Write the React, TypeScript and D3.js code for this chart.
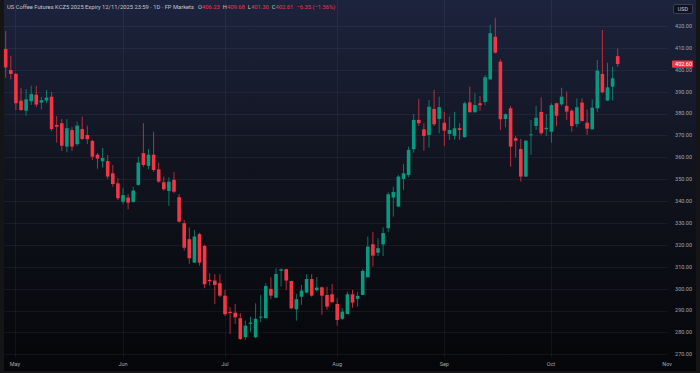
import * as d3 from "d3";

const WIDTH = 700;
const HEIGHT = 373;

// daily OHLC (May -> mid Oct)
const opens = [
  409.5, 399.9, 398.1, 385.9, 381.3, 385.6, 388.6, 385.0, 385.9, 387.7,
  374.8, 375.6, 364.9, 372.5, 366.0, 372.9, 370.2, 367.5, 361.2, 358.2,
  358.3, 352.7, 348.1, 339.7, 341.6, 339.6, 347.4, 361.9, 356.1, 361.2,
  354.5, 348.6, 344.6, 349.7, 341.8, 329.9, 322.6, 311.9, 324.9, 319.5,
  304.0, 303.7, 302.5, 296.8, 289.4, 289.0, 286.5, 277.8, 283.9, 277.8,
  286.8, 286.5, 299.9, 295.9, 308.2, 308.9, 303.5, 290.6, 296.3, 298.2,
  304.4, 299.3, 300.6, 297.1, 297.4, 293.0, 286.2, 288.4, 297.4, 295.3,
  297.1, 305.2, 320.3, 316.4, 320.2, 327.6, 341.6, 337.5, 350.1, 351.9,
  363.7, 377.1, 372.8, 370.2, 382.1, 377.5, 375.8, 370.7, 369.8, 373.3,
  369.2, 385.1, 380.6, 384.7, 385.3, 395.6, 415.1, 403.7, 377.5, 382.4,
  368.7, 363.8, 351.2, 370.1, 374.3, 380.7, 372.9, 371.7, 384.7, 384.2,
  383.5, 381.3, 375.2, 385.0, 375.8, 372.8, 382.4, 398.1, 385.9, 392.3,
  406.23,
];
const highs = [
  417.7, 406.4, 398.5, 391.8, 391.2, 392.7, 392.6, 387.7, 390.8, 389.9,
  378.9, 377.5, 377.5, 374.0, 376.3, 378.6, 374.5, 368.0, 361.9, 364.3,
  361.1, 356.5, 350.4, 346.1, 343.3, 346.6, 360.3, 375.6, 363.7, 371.7,
  357.6, 351.2, 350.9, 353.2, 343.3, 331.4, 327.9, 326.8, 325.5, 320.0,
  307.0, 306.6, 306.6, 299.4, 291.5, 293.0, 288.8, 285.4, 287.2, 293.3,
  297.1, 302.5, 305.2, 309.3, 309.2, 309.1, 303.6, 297.6, 301.7, 306.6,
  306.6, 305.2, 301.0, 300.9, 302.2, 295.6, 291.1, 298.6, 299.4, 298.6,
  308.9, 323.8, 326.0, 323.0, 328.0, 344.0, 346.6, 351.9, 357.0, 364.9,
  379.8, 386.7, 375.6, 386.2, 390.8, 387.7, 380.8, 378.6, 380.8, 375.6,
  385.4, 392.3, 389.3, 388.0, 397.6, 420.5, 423.7, 404.8, 380.0, 383.5,
  369.8, 368.4, 367.8, 377.1, 383.5, 387.4, 379.8, 384.7, 385.0, 391.8,
  390.0, 381.9, 387.0, 387.0, 381.9, 386.5, 404.5, 418.2, 403.2, 401.4,
  409.68,
];
const lows = [
  396.3, 395.6, 381.6, 381.3, 379.0, 383.9, 382.9, 381.9, 384.7, 372.0,
  366.7, 362.9, 362.3, 362.9, 365.3, 367.9, 366.1, 358.8, 354.8, 355.3,
  350.1, 346.6, 340.5, 338.6, 336.3, 339.3, 347.0, 355.7, 354.6, 353.4,
  348.4, 344.8, 337.8, 343.6, 330.2, 317.4, 311.3, 311.7, 310.5, 300.2,
  301.4, 292.9, 296.2, 287.5, 279.2, 283.9, 276.6, 276.6, 280.3, 277.3,
  284.7, 286.4, 295.2, 295.6, 300.9, 299.4, 290.6, 285.4, 292.6, 297.9,
  296.3, 298.6, 288.0, 290.3, 293.6, 283.1, 285.7, 288.3, 291.3, 291.8,
  297.0, 305.0, 310.1, 314.9, 314.9, 325.8, 332.9, 337.2, 345.1, 350.9,
  362.1, 374.3, 363.0, 364.4, 374.3, 371.0, 365.2, 367.9, 368.2, 367.9,
  369.0, 380.4, 380.4, 381.3, 383.9, 395.5, 407.5, 372.5, 373.7, 355.7,
  359.9, 348.9, 351.0, 361.1, 372.5, 370.2, 369.8, 366.7, 374.3, 383.5,
  377.1, 371.7, 373.7, 376.3, 370.2, 372.7, 380.8, 389.3, 385.8, 385.9,
  401.3,
];
const closes = [
  401.1, 398.1, 384.7, 381.6, 386.5, 388.9, 384.1, 386.1, 387.3, 372.9,
  374.0, 365.3, 373.3, 364.9, 374.5, 368.4, 368.3, 360.3, 359.4, 359.7,
  351.2, 347.8, 341.3, 342.8, 339.3, 344.8, 357.6, 356.5, 361.2, 354.2,
  348.9, 345.4, 348.9, 344.3, 330.6, 318.7, 313.9, 323.8, 311.9, 302.0,
  303.4, 301.7, 296.8, 288.3, 288.9, 286.9, 277.0, 283.1, 284.5, 286.2,
  287.2, 301.2, 296.8, 306.7, 308.8, 303.7, 291.0, 295.2, 299.1, 304.4,
  296.8, 300.5, 296.8, 291.8, 293.8, 285.7, 289.5, 297.4, 293.6, 296.7,
  308.1, 319.2, 315.1, 318.5, 325.4, 343.1, 344.2, 351.2, 352.7, 363.4,
  377.1, 375.6, 369.8, 383.1, 375.1, 382.9, 372.2, 372.5, 373.3, 372.5,
  384.7, 380.6, 383.9, 383.8, 396.6, 416.7, 407.8, 377.4, 379.7, 364.9,
  367.6, 351.2, 367.6, 370.5, 378.1, 371.0, 373.5, 383.9, 379.0, 387.7,
  380.9, 374.3, 382.9, 376.6, 373.1, 382.7, 399.6, 389.7, 392.0, 396.1,
  402.61,
];

const priceTicks = d3.range(270, 421, 10);
const monthLabels = ["May", "Jun", "Jul", "Aug", "Sep", "Oct", "Nov"];
// bar index where each month label sits
const monthBarIndex = [1.8, 23, 43, 65, 86, 106.9, 129.7];

// header change as shown in the legend
const headerChange = "−6.35 (−1.56%)";
const lastPriceLabel = "402.60";

const UP = "#089981";
const DOWN = "#f23645";
const TEXT = "#a3a6af";
const FONT = "Roboto, 'DejaVu Sans', sans-serif";

export default function App() {
  const n = closes.length;
  const x = d3.scaleLinear().domain([0, n - 1]).range([5.7, 617.7]);
  const y = d3.scaleLinear().domain([270, 420]).range([354.3, 26]);
  const bodyW = 3.6;

  const last = closes[n - 1];

  return (
    <div>
      <style>{`body{margin:0;background:#000}`}</style>
      <svg width={WIDTH} height={HEIGHT} style={{ display: "block" }} fontFamily={FONT}>
        <defs>
          <linearGradient id="bg" x1="0" y1="0" x2="0" y2="1">
            <stop offset="0%" stopColor="#1c233d" />
            <stop offset="45%" stopColor="#11141f" />
            <stop offset="100%" stopColor="#050609" />
          </linearGradient>
        </defs>
        <rect width={WIDTH} height={HEIGHT} fill="#151515" />
        <rect x={4} y={0} width={692} height={371} fill="url(#bg)" />

        {/* grid */}
        <g stroke="#ffffff" strokeOpacity={0.05} strokeWidth={1}>
          {priceTicks.map((t) => (
            <line key={t} x1={4} x2={668} y1={Math.round(y(t)) + 0.5} y2={Math.round(y(t)) + 0.5} />
          ))}
          {monthBarIndex.slice(0, -1).map((m, i) => (
            <line key={i} x1={Math.round(x(m)) + 0.5} x2={Math.round(x(m)) + 0.5} y1={0} y2={358} />
          ))}
        </g>

        {/* candles */}
        {closes.map((c, i) => {
          const o = opens[i];
          const up = c >= o;
          const col = up ? UP : DOWN;
          const cx = x(i);
          const top = y(Math.max(o, c));
          const bot = y(Math.min(o, c));
          return (
            <g key={i}>
              <line x1={cx} x2={cx} y1={y(highs[i])} y2={y(lows[i])} stroke={col} strokeWidth={1} strokeOpacity={0.75} />
              <rect x={cx - bodyW / 2} y={top} width={bodyW} height={Math.max(1, bot - top)} fill={col} />
            </g>
          );
        })}

        {/* price axis */}
        <g fontSize={5.5} fill={TEXT} textAnchor="end">
          {priceTicks.map((t) => (
            <text key={t} x={692} y={y(t)} dy="0.35em">
              {t.toFixed(2)}
            </text>
          ))}
        </g>
        <rect x={672} y={y(last) - 3.6} width={21} height={7.2} rx={1} fill={DOWN} />
        <text x={692} y={y(last)} dy="0.35em" fontSize={5.5} fill="#ffffff" textAnchor="end">
          {lastPriceLabel}
        </text>

        <rect x={673.5} y={4.5} width={19} height={9} rx={1.5} fill="#0d1120" stroke="#3a3f4f" />
        <text x={683} y={9} dy="0.35em" fontSize={5.5} fill="#c9ccd4" textAnchor="middle">
          USD
        </text>

        {/* month axis */}
        <g fontSize={5.5} fill={TEXT} textAnchor="middle">
          {monthLabels.map((m, i) => (
            <text key={m} x={x(monthBarIndex[i])} y={364} dy="0.35em">
              {m}
            </text>
          ))}
        </g>

        {/* title */}
        <text x={7} y={7} dy="0.35em" fontSize={5.8} fill="#c3c6ce">
          US Coffee Futures KCZ5 2025 Expiry 12/11/2025 23:59 · 1D · FP Markets
          <tspan dx={4}>O</tspan>
          <tspan fill={DOWN}>{opens[n - 1].toFixed(2)}</tspan>
          <tspan dx={3}>H</tspan>
          <tspan fill={DOWN}>{highs[n - 1].toFixed(2)}</tspan>
          <tspan dx={3}>L</tspan>
          <tspan fill={DOWN}>{lows[n - 1].toFixed(2)}</tspan>
          <tspan dx={3}>C</tspan>
          <tspan fill={DOWN}>{last.toFixed(2)}</tspan>
          <tspan dx={3} fill={DOWN}>{headerChange}</tspan>
        </text>
      </svg>
    </div>
  );
}
